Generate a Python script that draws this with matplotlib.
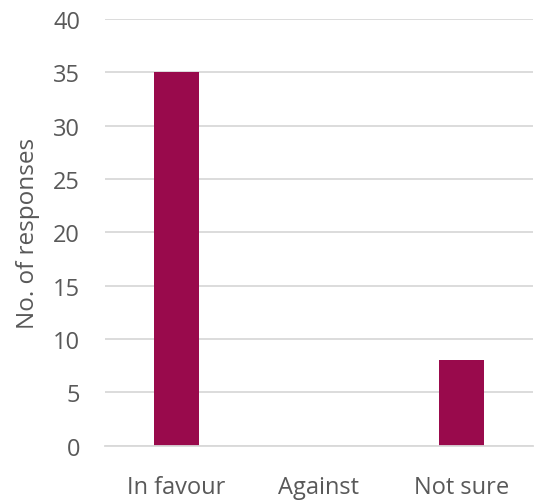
import matplotlib
matplotlib.use("Agg")
import matplotlib.pyplot as plt
import numpy as np

categories = ["In favour", "Against", "Not sure"]
responses = [35, 0, 8]
yticks = [0, 5, 10, 15, 20, 25, 30, 35, 40]

plt.rcParams['font.family'] = ['Open Sans', 'DejaVu Sans']
text_col = "#595959"

fig = plt.figure(figsize=(5.38, 5.02), dpi=100)
# axes: left 105px, right 533px, bottom 446.7px, top 20px
ax = fig.add_axes([105 / 538, 1 - 446.7 / 502, 428 / 538, 426.7 / 502])

x = np.arange(len(categories))
ax.bar(x, responses, width=0.32, color="#990A4C", zorder=3)

ax.set_xlim(-0.5, len(categories) - 0.5)
ax.set_ylim(0, 40)
ax.set_yticks(yticks)
ax.set_xticks(x)
ax.set_xticklabels(categories)
ax.yaxis.grid(True, color="#D9D9D9", linewidth=1.3, zorder=0)
ax.set_axisbelow(True)

for side in ["top", "right", "left"]:
    ax.spines[side].set_visible(False)
ax.spines["bottom"].set_color("#D9D9D9")
ax.spines["bottom"].set_linewidth(1.3)
ax.spines["bottom"].set_zorder(4)

ax.tick_params(axis="both", length=0, labelsize=17, colors=text_col)
ax.tick_params(axis="y", pad=18)
ax.tick_params(axis="x", pad=21)
ax.set_ylabel("No. of responses", fontsize=17.5, color=text_col, labelpad=9)

fig.savefig("out.png", dpi=100)
